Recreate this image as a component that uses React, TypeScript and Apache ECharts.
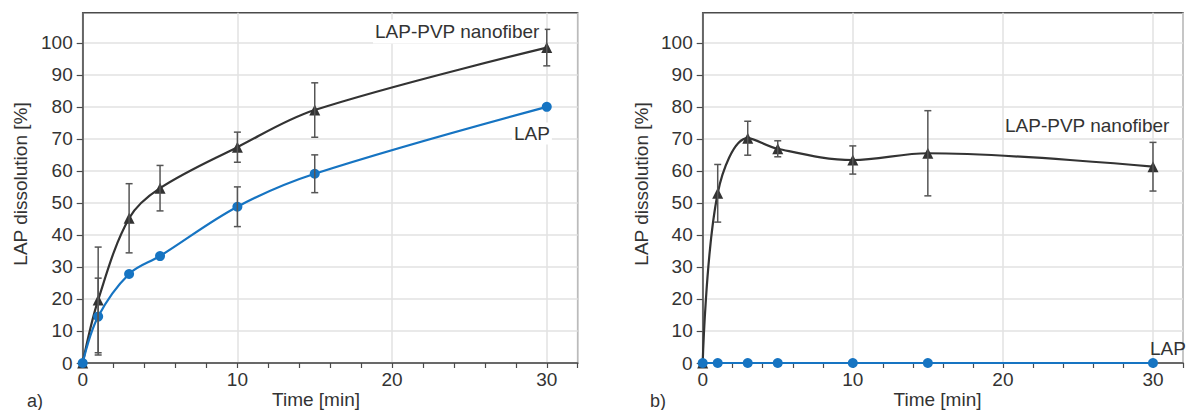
import React, { useEffect, useRef } from "react";
import * as echarts from "echarts";

const timeA = [0, 1, 3, 5, 10, 15, 30];
const nanofiberA = [0, 19.7, 45.2, 54.6, 67.4, 79.0, 98.5];
const nanofiberErrA = [0, 16.5, 10.8, 7.1, 4.7, 8.5, 5.7];
const lapA = [0, 14.5, 27.8, 33.4, 48.8, 59.1, 80.0];
const lapErrA = [0, 12, 0, 0, 6.2, 5.9, 0];

const timeB = [0, 1, 3, 5, 10, 15, 30];
const nanofiberB = [0, 53.0, 70.2, 66.9, 63.4, 65.5, 61.3];
const nanofiberErrB = [0, 9.0, 5.3, 2.5, 4.4, 13.3, 7.6];
const lapB = [0, 0, 0, 0, 0, 0, 0];
const lapErrB = [0, 0, 0, 0, 0, 0, 0];

const yTicks = [0, 10, 20, 30, 40, 50, 60, 70, 80, 90, 100];

const FONT = "Liberation Sans, Arial, Helvetica, sans-serif";
const TXT = "#333";
const DARK = "#333";
const BLUE = "#1674c2";
const FRAME = "#4a4a4a";
const GRIDC = "#e2e2e2";

function pairs(t: number[], v: number[]) {
  return t.map((x, i) => [x, v[i]]);
}
function errs(t: number[], v: number[], e: number[]) {
  return t
    .map((x, i) => [x, v[i] - e[i], v[i] + e[i]])
    .filter((d, i) => e[i] > 0);
}

const renderErr = (params: any, api: any) => {
  const x = api.value(0);
  const lo = api.coord([x, api.value(1)]);
  const hi = api.coord([x, api.value(2)]);
  const w = 3.5;
  const st = { stroke: "#555", lineWidth: 1.5 };
  return {
    type: "group",
    children: [
      { type: "line", shape: { x1: lo[0], y1: lo[1], x2: hi[0], y2: hi[1] }, style: st },
      { type: "line", shape: { x1: lo[0] - w, y1: lo[1], x2: lo[0] + w, y2: lo[1] }, style: st },
      { type: "line", shape: { x1: hi[0] - w, y1: hi[1], x2: hi[0] + w, y2: hi[1] }, style: st },
    ],
  };
};

export default function App() {
  const ref = useRef<HTMLDivElement>(null);
  useEffect(() => {
    const chart = echarts.init(ref.current!, null, { renderer: "svg" });
    const xData = (gi: number) => ({
      type: "value",
      gridIndex: gi,
      min: 0,
      max: 32,
      interval: 2,
      axisLine: { show: true, lineStyle: { color: FRAME, width: 1.5 } },
      axisTick: { show: true, length: 5, lineStyle: { color: FRAME, width: 1.2 } },
      axisLabel: {
        margin: 7,
        fontSize: 19,
        fontFamily: FONT,
        color: TXT,
        formatter: (v: number) => (v % 10 === 0 && v <= 30 ? String(v) : ""),
      },
      splitLine: { show: false },
    });
    const xGrid = (gi: number) => ({
      type: "value",
      gridIndex: gi,
      min: 0,
      max: 32,
      interval: 10,
      axisLine: { show: false },
      axisTick: { show: false },
      axisLabel: { show: false },
      splitLine: { show: true, lineStyle: { color: GRIDC, width: 1.5 } },
    });
    const yAx = (gi: number) => ({
      type: "value",
      gridIndex: gi,
      min: 0,
      max: 109.4,
      interval: 10,
      axisLine: { show: true, lineStyle: { color: FRAME, width: 1.5 } },
      axisTick: { show: true, length: 6, customValues: yTicks, lineStyle: { color: FRAME, width: 1.2 } },
      axisLabel: {
        margin: 10,
        fontSize: 19,
        fontFamily: FONT,
        color: TXT,
        customValues: yTicks,
        formatter: (v: number) => (v <= 100 ? String(v) : ""),
      },
      splitLine: { show: true, lineStyle: { color: GRIDC, width: 1.5 } },
    });
    const lineS = (xi: number, yi: number, t: number[], v: number[], color: string, symbol: string, size: number) => ({
      type: "line",
      xAxisIndex: xi,
      yAxisIndex: yi,
      data: pairs(t, v),
      smooth: 0.35,
      symbol,
      symbolSize: size,
      showAllSymbol: true,
      lineStyle: { color, width: 2.2 },
      itemStyle: { color },
      z: 3,
    });
    const errS = (xi: number, yi: number, t: number[], v: number[], e: number[]) => ({
      type: "custom",
      xAxisIndex: xi,
      yAxisIndex: yi,
      data: errs(t, v, e),
      renderItem: renderErr,
      z: 4,
      silent: true,
    });
    const txt = (text: string, x: number, y: number, extra: any = {}) => ({
      type: "text",
      x,
      y,
      z: 10,
      style: {
        text,
        fill: TXT,
        font: `19px ${FONT}`,
        textAlign: "left",
        textVerticalAlign: "middle",
        ...extra,
      },
    });
    chart.setOption({
      animation: false,
      backgroundColor: "#fff",
      grid: [
        { left: 82.7, top: 12.7, width: 495, height: 350.3, show: true, borderColor: FRAME, borderWidth: 1.5, containLabel: false },
        { left: 702.7, top: 12.7, width: 495, height: 350.3, show: true, borderColor: FRAME, borderWidth: 1.5, containLabel: false },
      ],
      xAxis: [xData(0), xGrid(0), xData(1), xGrid(1)],
      yAxis: [yAx(0), yAx(1)],
      series: [
        lineS(0, 0, timeA, nanofiberA, DARK, "triangle", 11),
        lineS(0, 0, timeA, lapA, BLUE, "circle", 10),
        errS(0, 0, timeA, nanofiberA, nanofiberErrA),
        errS(0, 0, timeA, lapA, lapErrA),
        lineS(2, 1, timeB, nanofiberB, DARK, "triangle", 11),
        lineS(2, 1, timeB, lapB, BLUE, "circle", 10),
        errS(2, 1, timeB, nanofiberB, nanofiberErrB),
        errS(2, 1, timeB, lapB, lapErrB),
      ],
      graphic: [
        txt("LAP dissolution [%]", 20.5, 184, { textAlign: "center" }),
        txt("LAP dissolution [%]", 641.7, 184, { textAlign: "center" }),
        txt("Time [min]", 316, 399, { textAlign: "center" }),
        txt("Time [min]", 937.5, 399, { textAlign: "center" }),
        txt("a)", 27, 400.5, { font: `18px ${FONT}` }),
        txt("b)", 650, 400.5, { font: `18px ${FONT}` }),
        txt("LAP-PVP nanofiber", 373, 31.5, { backgroundColor: "#fff", padding: [1, 5, 4, 2] }),
        txt("LAP", 512, 133.5, { backgroundColor: "#fff", padding: [1, 2, 2, 2] }),
        txt("LAP-PVP nanofiber", 1005, 125),
        txt("LAP", 1150, 348),
      ].map((g: any, i: number) =>
        i < 2 ? { ...g, rotation: Math.PI / 2 } : g
      ),
    });
    return () => chart.dispose();
  }, []);
  return (
    <div
      ref={ref}
      style={{ position: "absolute", left: 0, top: 0, width: 1186, height: 410, overflow: "hidden" }}
    />
  );
}
